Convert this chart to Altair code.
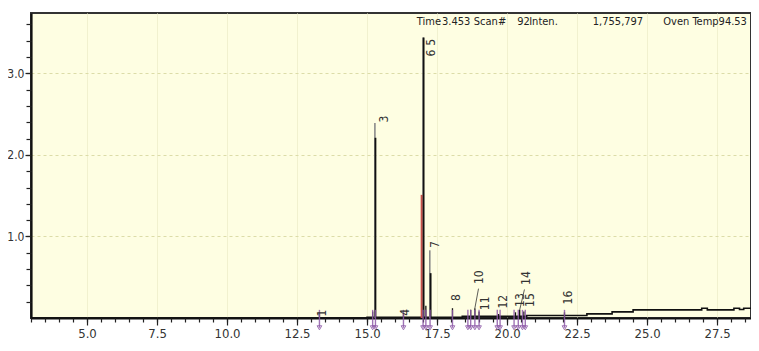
import altair as alt
import pandas as pd

# ---------------- data ----------------
# main (tall) peaks: retention time, total height (gray top), black part
main_rt = [15.28, 17.00, 17.24]
main_top = [2.39, 3.44, 0.83]
main_black = [2.21, 3.44, 0.55]
main_black_rt = [15.30, 17.02, 17.27]

# red overlay on the tallest peak
red_rt = [16.95]
red_top = [1.51]

# small peaks (black spikes)
small_rt = [13.3, 15.2, 16.3, 17.1, 18.05, 18.7, 18.85, 19.0, 19.7, 20.3, 20.45, 20.6, 22.05]
small_h = [0.06, 0.08, 0.06, 0.15, 0.12, 0.10, 0.12, 0.08, 0.05, 0.07, 0.10, 0.08, 0.07]

# purple peak markers on the baseline
marker_rt = [13.3, 15.2, 15.3, 16.3, 17.0, 17.1, 17.25, 18.05, 18.6, 18.7, 18.85,
             19.0, 19.65, 19.75, 20.25, 20.4, 20.55, 20.65, 22.05]

# peak labels
label_text = ["1", "3", "4", "5", "6", "7", "8", "10", "11", "12", "13", "14", "15", "16"]
label_x = [13.39, 15.60, 16.36, 17.27, 17.29, 17.43, 18.18, 19.00, 19.21, 19.86, 20.46, 20.68, 20.82, 22.18]
label_y = [0.06, 2.44, 0.07, 3.38, 3.25, 0.90, 0.25, 0.50, 0.18, 0.20, 0.22, 0.49, 0.22, 0.25]

# leader lines from labels 10 and 14 to their peaks
lead_x = [18.98, 20.62]
lead_x2 = [18.85, 20.45]
lead_y = [0.36, 0.35]
lead_y2 = [0.12, 0.10]

# baseline (step trace)
base_x = [3.0, 15.0, 17.6, 18.4, 19.3, 20.7, 22.85, 23.75, 24.5, 26.95, 27.15, 28.1, 28.3, 28.45, 29.0]
base_y = [0.0, 0.01, 0.01, 0.02, 0.02, 0.03, 0.05, 0.075, 0.10, 0.12, 0.10, 0.12, 0.105, 0.12, 0.12]

# header text pieces (centres)
info_text = ["Time", "3.453", "Scan#", "92", "Inten.", "1,755,797", "Oven Temp94.53"]
info_x = [17.21, 18.18, 19.39, 20.59, 21.30, 23.96, 27.07]
info_y = [3.63] * len(info_text)

# axis tick values
x_major = [5.0, 7.5, 10.0, 12.5, 15.0, 17.5, 20.0, 22.5, 25.0, 27.5]
x_minor = [3.0 + 0.5 * i for i in range(52)]
y_major = [1.0, 2.0, 3.0]
y_minor = [0.2 * i for i in range(1, 19)]

XDOM = [3.0, 28.71]
YDOM = [0.0, 3.74]
FONT = "Liberation Sans Narrow, DejaVu Sans Condensed, Liberation Sans, sans-serif"

xs = alt.Scale(domain=XDOM, nice=False, zero=False)
ys = alt.Scale(domain=YDOM, nice=False, zero=False)

# ---------------- layers ----------------
base_df = pd.DataFrame({"rt": base_x, "sig": base_y})
baseline = alt.Chart(base_df).mark_line(
    color="#111", strokeWidth=1.6, interpolate="step-after", clip=True
).encode(
    x=alt.X("rt:Q", scale=xs, title=None,
            axis=alt.Axis(values=x_major, format=".1f", tickSize=7, tickWidth=1.2,
                          grid=True, gridColor="#f1f1cf", gridWidth=1,
                          labelFont=FONT, labelFontSize=13, labelColor="#333",
                          labelPadding=2, domainColor="#111", domainWidth=2.2,
                          tickColor="#222", orient="bottom")),
    y=alt.Y("sig:Q", scale=ys, title=None,
            axis=alt.Axis(values=y_major, format=".1f", tickSize=6, tickWidth=1.2,
                          grid=True, gridColor="#dcdca8", gridDash=[3, 3], gridWidth=1,
                          labelFont=FONT, labelFontSize=12, labelColor="#333",
                          labelPadding=1, domainColor="#111", domainWidth=2.2,
                          tickColor="#222", orient="left")),
)

# minor ticks (axes only)
minor_df = pd.DataFrame({"rt": [3.0], "sig": [0.0]})
minor_axes = alt.Chart(minor_df).mark_point(opacity=0).encode(
    x=alt.X("rt:Q", scale=xs, title=None,
            axis=alt.Axis(values=x_minor, labels=False, tickSize=4, tickWidth=1.2,
                          tickColor="#222", domain=False, grid=False, orient="bottom")),
    y=alt.Y("sig:Q", scale=ys, title=None,
            axis=alt.Axis(values=y_minor, labels=False, tickSize=5, tickWidth=1.2,
                          tickColor="#222", domain=False, grid=False, orient="left")),
)

main_df = pd.DataFrame({"rt": main_rt, "top": main_top, "zero": [0.0] * 3})
gray_peaks = alt.Chart(main_df).mark_rule(color="#8a8a8a", strokeWidth=1.6).encode(
    x=alt.X("rt:Q", scale=xs, axis=None),
    y=alt.Y("zero:Q", scale=ys, axis=None),
    y2="top:Q",
)

black_df = pd.DataFrame({"rt": main_black_rt, "top": main_black, "zero": [0.0] * 3})
black_peaks = alt.Chart(black_df).mark_rule(color="#111", strokeWidth=1.8).encode(
    x=alt.X("rt:Q", scale=xs, axis=None),
    y=alt.Y("zero:Q", scale=ys, axis=None),
    y2="top:Q",
)

red_df = pd.DataFrame({"rt": red_rt, "top": red_top, "zero": [0.0]})
red_peak = alt.Chart(red_df).mark_rule(color="#c8504a", strokeWidth=2).encode(
    x=alt.X("rt:Q", scale=xs, axis=None),
    y=alt.Y("zero:Q", scale=ys, axis=None),
    y2="top:Q",
)

small_df = pd.DataFrame({"rt": small_rt, "top": small_h, "zero": [0.0] * len(small_rt)})
small_peaks = alt.Chart(small_df).mark_rule(color="#111", strokeWidth=1.3).encode(
    x=alt.X("rt:Q", scale=xs, axis=None),
    y=alt.Y("zero:Q", scale=ys, axis=None),
    y2="top:Q",
)

mk_df = pd.DataFrame({"rt": marker_rt, "lo": [-0.12] * len(marker_rt), "hi": [0.1] * len(marker_rt)})
markers = alt.Chart(mk_df).mark_rule(color="#8e5aa8", strokeWidth=1.4, opacity=0.85).encode(
    x=alt.X("rt:Q", scale=xs, axis=None),
    y=alt.Y("lo:Q", scale=ys, axis=None),
    y2="hi:Q",
)
markers_pt = alt.Chart(mk_df).mark_point(
    shape="triangle-down", color="#8e5aa8", size=22, filled=False, strokeWidth=1, opacity=0.85
).encode(
    x=alt.X("rt:Q", scale=xs, axis=None),
    y=alt.Y("lo:Q", scale=ys, axis=None),
)

lead_df = pd.DataFrame({"x": lead_x, "x2": lead_x2, "y": lead_y, "y2": lead_y2})
leaders = alt.Chart(lead_df).mark_rule(color="#333", strokeWidth=0.8).encode(
    x=alt.X("x:Q", scale=xs, axis=None), x2="x2:Q",
    y=alt.Y("y:Q", scale=ys, axis=None), y2="y2:Q",
)

lab_df = pd.DataFrame({"t": label_text, "x": label_x, "y": label_y})
labels = alt.Chart(lab_df).mark_text(
    angle=270, align="center", baseline="middle", font=FONT, fontSize=12, color="#333"
).encode(
    x=alt.X("x:Q", scale=xs, axis=None),
    y=alt.Y("y:Q", scale=ys, axis=None),
    text="t:N",
)

info_df = pd.DataFrame({"t": info_text, "x": info_x, "y": info_y})
info = alt.Chart(info_df).mark_text(
    align="center", baseline="middle", font=FONT, fontSize=11, color="#222"
).encode(
    x=alt.X("x:Q", scale=xs, axis=None),
    y=alt.Y("y:Q", scale=ys, axis=None),
    text="t:N",
)

chart = alt.layer(
    baseline, minor_axes, gray_peaks, red_peak, black_peaks, small_peaks,
    markers, markers_pt, leaders, labels, info
).resolve_axis(x="independent", y="independent").properties(
    width=720, height=305,
    autosize=alt.AutoSizeParams(type="none"),
    padding={"left": 23, "top": 5, "right": 0, "bottom": 25},
).configure_view(
    fill="#fefee2", stroke="#333", strokeWidth=2
)

chart.save("out.html", embed_options={"renderer": "svg", "actions": False})
